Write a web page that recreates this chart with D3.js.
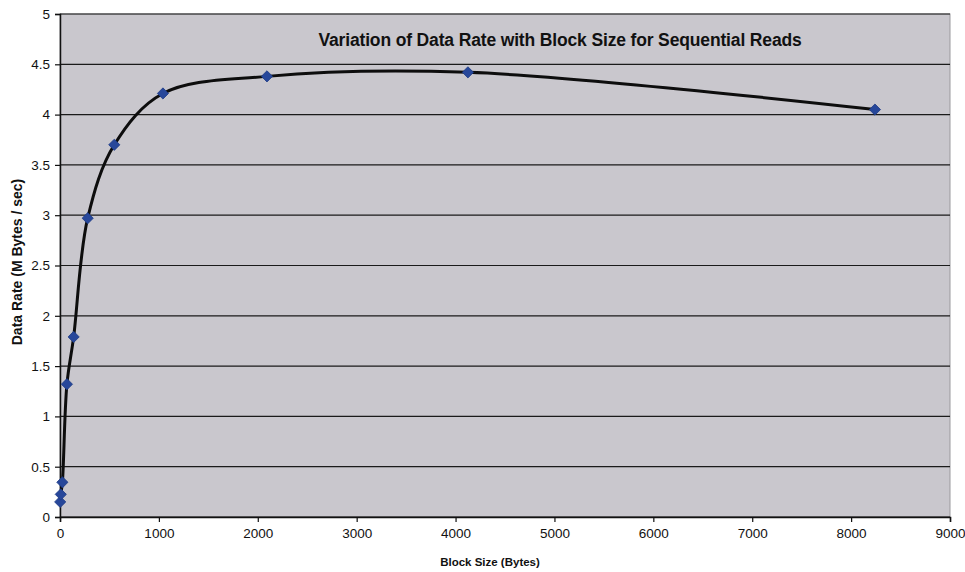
<!DOCTYPE html>
<html>
<head>
<meta charset="utf-8">
<script src="https://cdnjs.cloudflare.com/ajax/libs/d3/7.8.5/d3.min.js"></script>
<style>
    body { margin: 0; background: #fff; }
    text { font-family: "Liberation Sans", Arial, sans-serif; fill: #111; }
</style>
</head>
<body>
<svg id="chart" width="965" height="572"></svg>
<script>
'use strict';

// block size in bytes and data rate
var blockSizes = [2, 8, 24, 70, 138, 280, 549, 1041, 2093, 4125, 8241];
var dataRates = [0.15, 0.225, 0.345, 1.32, 1.79, 2.97, 3.70, 4.21, 4.38, 4.42, 4.05];

var xTicks = [0, 1000, 2000, 3000, 4000, 5000, 6000, 7000, 8000, 9000];
var yTicks = [0, 0.5, 1, 1.5, 2, 2.5, 3, 3.5, 4, 4.5, 5];

var svg = d3.select("#chart");
var margin = {left: 60, right: 15, top: 14, bottom: 55};
var width = 965 - margin.left - margin.right;
var height = 572 - margin.top - margin.bottom;

var x = d3.scaleLinear().domain([0, 9000]).range([0, width]);
var y = d3.scaleLinear().domain([0, 5]).range([height, 0]);

var g = svg.append("g")
    .attr("transform", "translate(" + margin.left + "," + margin.top + ")");

g.append("rect")
    .attr("width", width)
    .attr("height", height)
    .style("fill", "#c9c7cd")
    .style("stroke", "#9a999d");

// horizontal gridlines
g.selectAll("line.grid")
    .data(yTicks)
    .enter()
    .append("line")
    .attr("class", "grid")
    .attr("x1", 0)
    .attr("x2", width)
    .attr("y1", function (d) { return y(d); })
    .attr("y2", function (d) { return y(d); })
    .style("stroke", "#1a1a1a")
    .style("stroke-width", 1.2);

var xAxis = g.append("g")
    .attr("transform", "translate(0," + height + ")")
    .call(d3.axisBottom(x).tickValues(xTicks).tickSize(5).tickPadding(6)
        .tickFormat(d3.format("d")));

var yAxis = g.append("g")
    .call(d3.axisLeft(y).tickValues(yTicks).tickSize(5).tickPadding(5)
        .tickFormat(d3.format("")));

[xAxis, yAxis].forEach(function (axis) {
    axis.select(".domain").style("stroke", "#111").style("stroke-width", 1.5);
    axis.selectAll(".tick line").style("stroke", "#111").style("stroke-width", 1.2);
    axis.selectAll(".tick text")
        .style("font-size", "13.5px")
        .style("fill", "#111");
});

var points = blockSizes.map(function (b, i) {
    return {size: b, rate: dataRates[i]};
});

var line = d3.line()
    .x(function (d) { return x(d.size); })
    .y(function (d) { return y(d.rate); })
    .curve(d3.curveCatmullRom.alpha(0.5));

g.append("path")
    .datum(points)
    .attr("d", line)
    .style("fill", "none")
    .style("stroke", "#0d0d0d")
    .style("stroke-width", 3);

g.selectAll("path.marker")
    .data(points)
    .enter()
    .append("path")
    .attr("class", "marker")
    .attr("d", d3.symbol().type(d3.symbolDiamond2).size(80))
    .attr("transform", function (d) {
        return "translate(" + x(d.size) + "," + y(d.rate) + ")";
    })
    .style("fill", "#27479a")
    .style("stroke", "#1c3a85")
    .style("stroke-width", 0.8);

g.append("text")
    .attr("x", 560 - margin.left)
    .attr("y", 46 - margin.top)
    .attr("text-anchor", "middle")
    .style("font-size", "17.5px")
    .style("font-weight", "bold")
    .style("letter-spacing", "-0.15px")
    .text("Variation of Data Rate with Block Size for Sequential Reads");

svg.append("text")
    .attr("x", 490)
    .attr("y", 566)
    .attr("text-anchor", "middle")
    .style("font-size", "11.5px")
    .style("font-weight", "bold")
    .text("Block Size (Bytes)");

svg.append("text")
    .attr("transform", "translate(22,262) rotate(-90)")
    .attr("text-anchor", "middle")
    .style("font-size", "14px")
    .style("font-weight", "bold")
    .text("Data Rate (M Bytes / sec)");
</script>
</body>
</html>
